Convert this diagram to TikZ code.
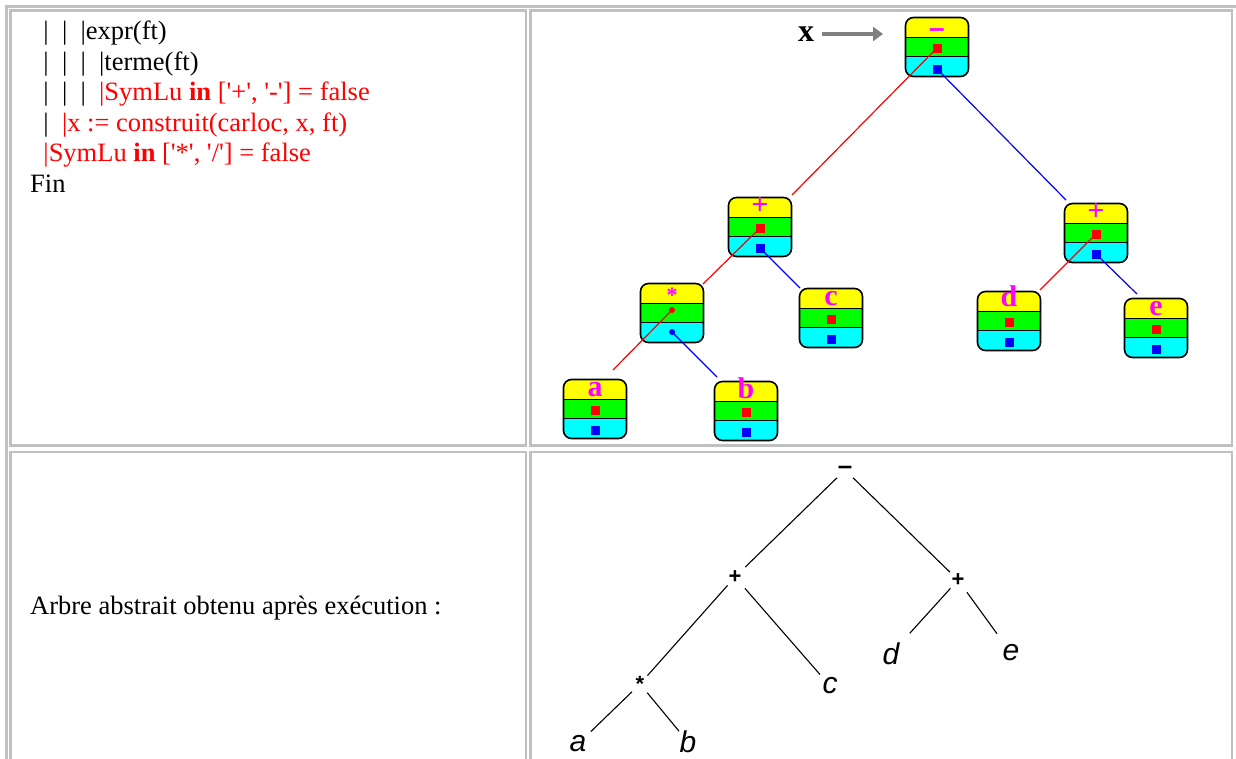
\documentclass[tikz,border=0pt]{standalone}
\usepackage{fontspec}
\setmainfont{Liberation Serif}
\newfontfamily\handfont{Liberation Sans}
\usepackage{tikz}
\usetikzlibrary{arrows.meta}
\usepackage{xcolor}

\definecolor{cellgray}{HTML}{C0C0C0}
\definecolor{boxyellow}{HTML}{FFFF00}
\definecolor{boxgreen}{HTML}{00FF00}
\definecolor{boxcyan}{HTML}{00FFFF}
\definecolor{markred}{HTML}{FF0000}
\definecolor{markblue}{HTML}{0000FF}
\definecolor{labmag}{HTML}{FF00FF}
\definecolor{arrowgray}{HTML}{808080}
\newcommand{\sq}{\textquotesingle}

\begin{document}
\begin{tikzpicture}[x=1pt,y=-1pt,
  tableline/.style={cellgray,line width=2.5pt},
  codeline/.style={anchor=base west,inner sep=0pt,font=\fontsize{26.5}{31}\selectfont},
  cellbox/.style={draw=black,line width=1.6pt,rounded corners=8pt,minimum width=63pt,minimum height=59pt,inner sep=0pt,
    path picture={
      \fill[boxyellow,sharp corners] (path picture bounding box.north west) rectangle ([yshift=-20pt]path picture bounding box.north east);
      \fill[boxgreen,sharp corners] ([yshift=-20pt]path picture bounding box.north west) rectangle ([yshift=-39pt]path picture bounding box.north east);
      \fill[boxcyan,sharp corners] ([yshift=-39pt]path picture bounding box.north west) rectangle (path picture bounding box.south east);
      \draw[black,line width=1.6pt,sharp corners] ([yshift=-20pt]path picture bounding box.north west) -- ([yshift=-20pt]path picture bounding box.north east);
      \draw[black,line width=1.6pt,sharp corners] ([yshift=-39pt]path picture bounding box.north west) -- ([yshift=-39pt]path picture bounding box.north east);
    }},
  symlab/.style={anchor=base,inner sep=0pt,text=labmag,font=\bfseries\fontsize{30}{36}\selectfont},
  redsq/.style={fill=markred,minimum size=9pt,inner sep=0pt},
  bluesq/.style={fill=markblue,minimum size=9pt,inner sep=0pt},
  reddot/.style={circle,fill=markred,minimum size=6pt,inner sep=0pt},
  bluedot/.style={circle,fill=markblue,minimum size=6pt,inner sep=0pt},
  redlink/.style={markred,line width=1.2pt},
  bluelink/.style={markblue,line width=1.2pt},
  xarrow/.style={arrowgray,line width=4pt,-{Triangle[length=10pt,width=14pt]}},
  opnode/.style={circle,inner sep=0pt,minimum size=22pt,font=\handfont\bfseries\fontsize{22}{26}\selectfont},
  leafnode/.style={circle,inner sep=0pt,minimum size=22pt,font=\handfont\itshape\fontsize{30}{36}\selectfont},
  treeline/.style={black,line width=1.1pt}]
\useasboundingbox (0,0) rectangle (1236,758);
\clip (0,0) rectangle (1236,758);

% table borders
\draw[tableline] (6.5,790) -- (6.5,6.5) -- (1260,6.5);
\draw[tableline] (10.5,10.5) rectangle (526,445.5);
\draw[tableline] (530.5,10.5) rectangle (1232,445.5);
\draw[tableline] (10.5,452) rectangle (526,790);
\draw[tableline] (530.5,452) rectangle (1232,790);

% trace of the parser
\node[codeline] (ln1) at (30,39) {~~|~~|~~|expr(ft)};
\node[codeline] (ln2) at (30,70) {~~|~~|~~|~~|terme(ft)};
\node[codeline] (ln3) at (30,100) {~~|~~|~~|~~\textcolor{markred}{|SymLu \textbf{in} [\sq+\sq, \sq-\sq] = false}};
\node[codeline] (ln4) at (30,131) {~~|~~\textcolor{markred}{|x := construit(carloc, x, ft)}};
\node[codeline] (ln5) at (30,161) {~~\textcolor{markred}{|SymLu \textbf{in} [\sq*\sq, \sq/\sq] = false}};
\node[codeline] (ln6) at (30,192) {Fin};

% tree in memory
\node[cellbox] (root) at (937,47) {};
\node[symlab,font=\handfont\bfseries\fontsize{28}{32}\selectfont] (root-s) at ([yshift=-21pt]root.north) {\textendash};
\node[redsq] (root-r) at ([yshift=-1pt]root.center) {};
\node[bluesq] (root-b) at ([yshift=-22pt]root.center) {};

\node[cellbox] (plusA) at (760,227) {};
\node[symlab] (plusA-s) at ([yshift=-18pt]plusA.north) {+};
\node[redsq] (plusA-r) at ([yshift=-1pt]plusA.center) {};
\node[bluesq] (plusA-b) at ([yshift=-21pt]plusA.center) {};

\node[cellbox] (plusB) at (1096,233) {};
\node[symlab] (plusB-s) at ([yshift=-18pt]plusB.north) {+};
\node[redsq] (plusB-r) at ([yshift=-1pt]plusB.center) {};
\node[bluesq] (plusB-b) at ([yshift=-21pt]plusB.center) {};

\node[cellbox] (star) at (672,313) {};
\node[symlab,anchor=center,font=\bfseries\fontsize{22}{26}\selectfont] (star-s) at ([yshift=-13pt]star.north) {*};
\node[reddot] (star-r) at ([yshift=3pt]star.center) {};
\node[bluedot] (star-b) at ([yshift=-19pt]star.center) {};

\node[cellbox] (leafc) at (831,318) {};
\node[symlab] (leafc-s) at ([yshift=-18pt]leafc.north) {c};
\node[redsq] (leafc-r) at ([yshift=-1pt]leafc.center) {};
\node[bluesq] (leafc-b) at ([yshift=-21pt]leafc.center) {};

\node[cellbox] (leafa) at (595,409) {};
\node[symlab] (leafa-s) at ([yshift=-18pt]leafa.north) {a};
\node[redsq] (leafa-r) at ([yshift=-1pt]leafa.center) {};
\node[bluesq] (leafa-b) at ([yshift=-21pt]leafa.center) {};

\node[cellbox] (leafb) at (746,411) {};
\node[symlab] (leafb-s) at ([yshift=-18pt]leafb.north) {b};
\node[redsq] (leafb-r) at ([yshift=-1pt]leafb.center) {};
\node[bluesq] (leafb-b) at ([yshift=-21pt]leafb.center) {};

\node[cellbox] (leafd) at (1009,321) {};
\node[symlab] (leafd-s) at ([yshift=-16pt]leafd.north) {d};
\node[redsq] (leafd-r) at ([yshift=-1pt]leafd.center) {};
\node[bluesq] (leafd-b) at ([yshift=-21pt]leafd.center) {};

\node[cellbox] (leafe) at (1156,328) {};
\node[symlab] (leafe-s) at ([yshift=-18pt]leafe.north) {e};
\node[redsq] (leafe-r) at ([yshift=-1pt]leafe.center) {};
\node[bluesq] (leafe-b) at ([yshift=-21pt]leafe.center) {};

% pointer x
\node[inner sep=0pt,font=\bfseries\fontsize{32}{36}\selectfont] (xvar) at (806,34) {x};
\coordinate (xtip) at (883,34);
\draw[xarrow,shorten <=8pt] (xvar) -- (xvar -| xtip);

% left (red) and right (blue) links
\coordinate (root-rend) at (792,195);
\coordinate (root-bend) at (1066,200);
\coordinate (plusA-rend) at (703,284);
\coordinate (plusA-bend) at (800,288);
\coordinate (plusB-rend) at (1040,290);
\coordinate (plusB-bend) at (1137,294);
\coordinate (star-rend) at (613,370);
\coordinate (star-bend) at (717,377);
\draw[redlink] (root-r.center) -- (root-rend);
\draw[bluelink] (root-b.center) -- (root-bend);
\draw[redlink] (plusA-r.center) -- (plusA-rend);
\draw[bluelink] (plusA-b.center) -- (plusA-bend);
\draw[redlink] (plusB-r.center) -- (plusB-rend);
\draw[bluelink] (plusB-b.center) -- (plusB-bend);
\draw[redlink] (star-r.center) -- (star-rend);
\draw[bluelink] (star-b.center) -- (star-bend);

% abstract tree
\node[codeline] (caption) at (30,614) {Arbre abstrait obtenu après exécution :};
\node[opnode,font=\handfont\bfseries\fontsize{26}{30}\selectfont] (t-m) at (845,470) {\textendash};
\node[opnode] (t-p1) at (735,577) {+};
\node[opnode] (t-p2) at (958,580) {+};
\node[opnode] (t-s) at (640,684) {*};
\node[leafnode] (t-c) at (830,686) {c};
\node[leafnode] (t-d) at (891,654) {d};
\node[leafnode] (t-e) at (1011,653) {e};
\node[leafnode] (t-a) at (578,744) {a};
\node[leafnode] (t-b) at (688,742) {b};
\draw[treeline,shorten >=3pt] (t-m) -- (t-p1);
\draw[treeline] (t-m) -- (t-p2);
\draw[treeline] (t-p1) -- (t-s);
\draw[treeline,shorten <=4pt,shorten >=4pt] (t-p1) -- (t-c);
\draw[treeline,shorten >=14pt] (t-p2) -- (t-d);
\draw[treeline,shorten <=4pt,shorten >=12pt] (t-p2) -- (t-e);
\draw[treeline,shorten >=6pt] (t-s) -- (t-a);
\draw[treeline] (t-s) -- (t-b);
\end{tikzpicture}
\end{document}
